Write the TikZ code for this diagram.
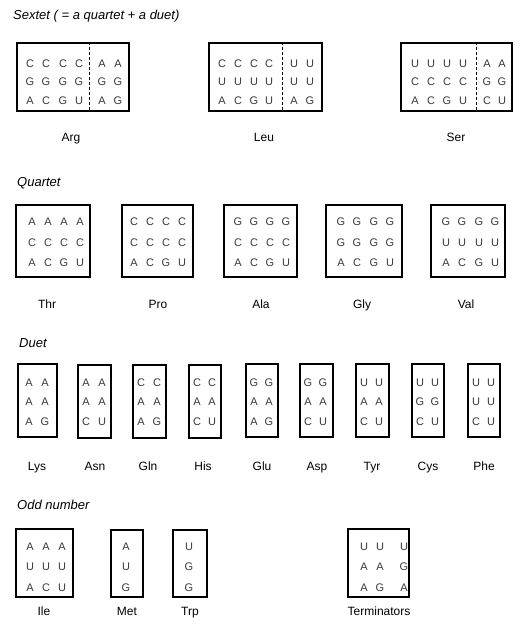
\documentclass[tikz,border=0pt]{standalone}
\usepackage{fontspec}
\setmainfont{Liberation Sans}
\usetikzlibrary{fit}
\tikzset{
  box/.style={draw, line width=1.1pt, inner sep=0pt},
  lt/.style={font=\fontsize{11}{13}\selectfont, text=black!78, inner sep=0pt},
  lab/.style={font=\fontsize{12}{14}\selectfont, inner sep=0pt, text height=8.6pt, text depth=0pt},
  ttl/.style={font=\fontsize{13}{15}\selectfont\itshape, anchor=west, inner sep=0pt},
  sep/.style={line width=0.9pt, dash pattern=on 3pt off 2pt}
}
% name, y, list of x/letter
\newcommand\lrow[3]{\foreach \xx/\ll [count=\ii] in {#3} \node[lt] (#1-\ii) at (\xx,#2) {\ll};}
\begin{document}
\begin{tikzpicture}[x=1pt,y=-1pt]
\useasboundingbox (0,0) rectangle (526,629);

% ---------------- Sextet ----------------
\node[ttl] (t1) at (13,16) {Sextet ( = a quartet + a duet)};

\node[box, fit={(17,43) (129,111)}] (arg) {};
\coordinate (argd) at (89,77);
\draw[sep] (argd |- arg.north) -- (argd |- arg.south);
\lrow{arga}{64}{30/C,46/C,63/C,79/C,102/A,118/A}
\lrow{argb}{82}{30/G,46/G,63/G,79/G,102/G,118/G}
\lrow{argc}{101}{30/A,46/C,63/G,79/U,102/A,118/G}
\node[lab] (argl) at (71,137) {Arg};

\node[box, fit={(209,43) (322,111)}] (leu) {};
\coordinate (leud) at (282,77);
\draw[sep] (leud |- leu.north) -- (leud |- leu.south);
\lrow{leua}{64}{222/C,238/C,254/C,269/C,294/U,310/U}
\lrow{leub}{82}{222/U,238/U,254/U,269/U,294/U,310/U}
\lrow{leuc}{101}{222/A,238/C,254/G,269/U,294/A,310/G}
\node[lab] (leul) at (264,137) {Leu};

\node[box, fit={(401,43) (512,111)}] (ser) {};
\coordinate (serd) at (476,77);
\draw[sep] (serd |- ser.north) -- (serd |- ser.south);
\lrow{sera}{64}{415/U,431/U,447/U,463/U,487/A,502/A}
\lrow{serb}{82}{415/C,431/C,447/C,463/C,487/G,502/G}
\lrow{serc}{101}{415/A,431/C,447/G,463/U,487/C,502/U}
\node[lab] (serl) at (456,137) {Ser};

% ---------------- Quartet ----------------
\node[ttl] (t2) at (17,183) {Quartet};

\node[box, fit={(16,205) (90,277)}] (thr) {};
\lrow{thra}{222}{32/A,48/A,64/A,80/A}
\lrow{thrb}{243}{32/C,48/C,64/C,80/C}
\lrow{thrc}{263}{32/A,48/C,64/G,80/U}
\node[lab] (thrl) at (47,304) {Thr};

\node[box, fit={(122,205) (193,277)}] (pro) {};
\lrow{proa}{222}{134/C,150/C,166/C,182/C}
\lrow{prob}{243}{134/C,150/C,166/C,182/C}
\lrow{proc}{263}{134/A,150/C,166/G,182/U}
\node[lab] (prol) at (158,304) {Pro};

\node[box, fit={(224,205) (297,277)}] (ala) {};
\lrow{alaa}{222}{238/G,254/G,270/G,286/G}
\lrow{alab}{243}{238/C,254/C,270/C,286/C}
\lrow{alac}{263}{238/A,254/C,270/G,286/U}
\node[lab] (alal) at (261,304) {Ala};

\node[box, fit={(326,205) (402,277)}] (gly) {};
\lrow{glya}{222}{341/G,357/G,374/G,390/G}
\lrow{glyb}{243}{341/G,357/G,374/G,390/G}
\lrow{glyc}{263}{341/A,357/C,374/G,390/U}
\node[lab] (glyl) at (362,304) {Gly};

\node[box, fit={(431,205) (505,277)}] (val) {};
\lrow{vala}{222}{446/G,462/G,479/G,495/G}
\lrow{valb}{243}{446/U,462/U,479/U,495/U}
\lrow{valc}{263}{446/A,462/C,479/G,495/U}
\node[lab] (vall) at (466,304) {Val};

% ---------------- Duet ----------------
\node[ttl] (t3) at (19,343) {Duet};

\node[box, fit={(18,364) (57,437)}] (lys) {};
\lrow{lysa}{383}{29/A,45/A}
\lrow{lysb}{402}{29/A,45/A}
\lrow{lysc}{422}{29/A,45/G}
\node[lab] (lysl) at (37,466) {Lys};

\node[box, fit={(78,365) (111,438)}] (asn) {};
\lrow{asna}{383}{86/A,102/A}
\lrow{asnb}{402}{86/A,102/A}
\lrow{asnc}{422}{86/C,102/U}
\node[lab] (asnl) at (95,466) {Asn};

\node[box, fit={(133,365) (166,438)}] (gln) {};
\lrow{glna}{383}{141/C,157/C}
\lrow{glnb}{402}{141/A,157/A}
\lrow{glnc}{422}{141/A,157/G}
\node[lab] (glnl) at (148,466) {Gln};

\node[box, fit={(189,365) (221,438)}] (his) {};
\lrow{hisa}{383}{197/C,212/C}
\lrow{hisb}{402}{197/A,212/A}
\lrow{hisc}{422}{197/C,212/U}
\node[lab] (hisl) at (203,466) {His};

\node[box, fit={(246,364) (278,437)}] (glu) {};
\lrow{glua}{383}{254/G,269/G}
\lrow{glub}{402}{254/A,269/A}
\lrow{gluc}{422}{254/A,269/G}
\node[lab] (glul) at (262,466) {Glu};

\node[box, fit={(300,364) (333,437)}] (asp) {};
\lrow{aspa}{383}{308/G,323/G}
\lrow{aspb}{402}{308/A,323/A}
\lrow{aspc}{422}{308/C,323/U}
\node[lab] (aspl) at (317,466) {Asp};

\node[box, fit={(356,364) (389,437)}] (tyr) {};
\lrow{tyra}{383}{364/U,379/U}
\lrow{tyrb}{402}{364/A,379/A}
\lrow{tyrc}{422}{364/C,379/U}
\node[lab] (tyrl) at (372,466) {Tyr};

\node[box, fit={(412,364) (444,437)}] (cys) {};
\lrow{cysa}{383}{420/U,435/U}
\lrow{cysb}{402}{420/G,435/G}
\lrow{cysc}{422}{420/C,435/U}
\node[lab] (cysl) at (428,466) {Cys};

\node[box, fit={(468,364) (500,437)}] (phe) {};
\lrow{phea}{383}{476/U,491/U}
\lrow{pheb}{402}{476/U,491/U}
\lrow{phec}{422}{476/C,491/U}
\node[lab] (phel) at (484,466) {Phe};

% ---------------- Odd number ----------------
\node[ttl] (t4) at (17,505) {Odd number};

\node[box, fit={(16,529) (73,597)}] (ile) {};
\lrow{ilea}{547}{30/A,46/A,62/A}
\lrow{ileb}{567}{30/U,46/U,62/U}
\lrow{ilec}{588}{30/A,46/C,62/U}
\node[lab] (ilel) at (44,611) {Ile};

\node[box, fit={(111,530) (143,597)}] (met) {};
\lrow{meta}{547}{126/A}
\lrow{metb}{567}{126/U}
\lrow{metc}{588}{126/G}
\node[lab] (metl) at (127,611) {Met};

\node[box, fit={(173,530) (207,597)}] (trp) {};
\lrow{trpa}{547}{189/U}
\lrow{trpb}{567}{189/G}
\lrow{trpc}{588}{189/G}
\node[lab] (trpl) at (190,611) {Trp};

\node[box, fit={(348,529) (409,597)}] (term) {};
\lrow{terma}{547}{364/U,380/U,404/U}
\lrow{termb}{567}{364/A,380/A,404/G}
\lrow{termc}{588}{364/A,380/G,404/A}
\node[lab] (terml) at (379,611) {Terminators};
\end{tikzpicture}
\end{document}
